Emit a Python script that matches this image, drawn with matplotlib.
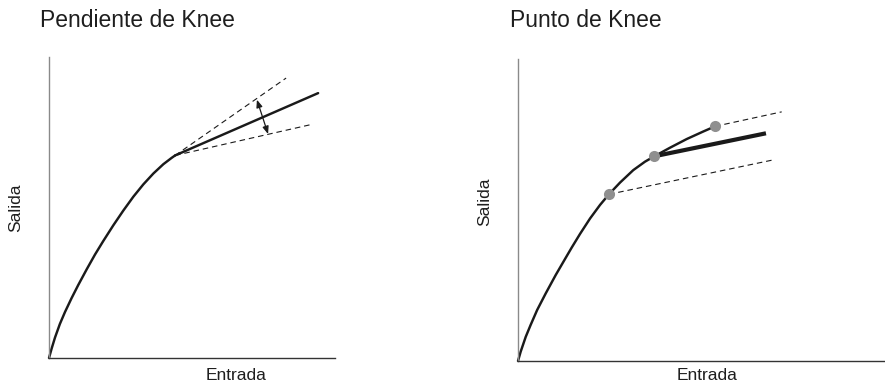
import matplotlib
matplotlib.use("Agg")
import matplotlib.pyplot as plt

plt.rcParams['font.family'] = ['Liberation Sans', 'DejaVu Sans']

# ---- Data (normalised input/output levels) ----
# Left panel: Pendiente de Knee
slope_curve_x = [0, 0.94, 2.1, 3.8, 5.6, 7.9, 10.2, 13.2, 16.1, 19.0, 22.5, 26.0,
                 29.5, 33.0, 36.5, 40.0, 42.9, 44.1]
slope_curve_y = [0, 3.2, 6.8, 11.3, 15.3, 19.9, 24.2, 29.5, 34.4, 38.9, 44.1, 49.0,
                 53.6, 57.7, 61.3, 64.4, 66.5, 67.3]
slope_knee = (44.1, 67.3)
slope_solid_end = (94.1, 88.0)
slope_upper_end = (82.9, 93.0)
slope_lower_end = (92.3, 77.7)
slope_arrow_a = (72.7, 85.8)
slope_arrow_b = (76.6, 74.4)

# Right panel: Punto de Knee
point_curve_x = [0, 0.94, 2.7, 4.4, 6.7, 9.7, 13.2, 16.7, 18.8, 21.7, 25.2, 28.7,
                 31.8, 35.7, 40.3, 44.4, 47.7, 53.1, 59.0, 64.8, 68.9]
point_curve_y = [0, 3.1, 8.0, 11.9, 16.9, 22.4, 28.5, 34.2, 37.6, 42.1, 47.2, 51.7,
                 55.2, 59.1, 63.2, 66.0, 67.8, 70.6, 73.5, 76.0, 77.7]
knee_points_x = [31.8, 47.7, 68.9]
knee_points_y = [55.2, 67.8, 77.7]
point_solid_end = (86.7, 75.4)
point_upper_end = (92.2, 82.5)
point_lower_end = (89.3, 66.6)

titles = ["Pendiente de Knee", "Punto de Knee"]
xlabel = "Entrada"
ylabel = "Salida"

W, H = 885, 384
fig = plt.figure(figsize=(W / 100, H / 100), dpi=100)

def px_axes(x0, ybot, w, h):
    return fig.add_axes([x0 / W, (H - ybot) / H, w / W, h / H])

ax1 = px_axes(49, 358, 286, 301)
ax2 = px_axes(518, 361, 367, 302)
ax1.set_xlim(0, 100)
ax1.set_ylim(0, 100)
ax2.set_xlim(0, 367 / 2.86)
ax2.set_ylim(0, 100.0)

for ax in (ax1, ax2):
    for s in ('top', 'right'):
        ax.spines[s].set_visible(False)
    ax.spines['left'].set_color('#8a8a8a')
    ax.spines['left'].set_linewidth(1.0)
    ax.spines['bottom'].set_color('#333333')
    ax.spines['bottom'].set_linewidth(1.0)
    ax.set_xticks([])
    ax.set_yticks([])
    ax.patch.set_alpha(0)

curve_kw = dict(color='#1a1a1a', lw=1.75, solid_capstyle='round', solid_joinstyle='round', clip_on=False)
dash_kw = dict(color='#1a1a1a', lw=0.8, dashes=(5, 3.5), clip_on=False)

# Left panel
ax1.plot(slope_curve_x, slope_curve_y, **curve_kw)
ax1.plot([slope_knee[0], slope_solid_end[0]], [slope_knee[1], slope_solid_end[1]], **curve_kw)
ax1.plot([slope_knee[0], slope_upper_end[0]], [slope_knee[1], slope_upper_end[1]], **dash_kw)
ax1.plot([slope_knee[0], slope_lower_end[0]], [slope_knee[1], slope_lower_end[1]], **dash_kw)
ax1.annotate("", xy=slope_arrow_a, xytext=slope_arrow_b,
             arrowprops=dict(arrowstyle='<|-|>,head_length=0.45,head_width=0.18',
                             color='#1a1a1a', lw=0.9, shrinkA=0, shrinkB=0))

# Right panel
ax2.plot([knee_points_x[0], point_lower_end[0]], [knee_points_y[0], point_lower_end[1]], **dash_kw)
ax2.plot([knee_points_x[2], point_upper_end[0]], [knee_points_y[2], point_upper_end[1]], **dash_kw)
ax2.plot(point_curve_x, point_curve_y, **curve_kw)
ax2.plot([knee_points_x[1], point_solid_end[0]], [knee_points_y[1], point_solid_end[1]],
         color='#1a1a1a', lw=3.0, solid_capstyle='butt', clip_on=False)
ax2.plot(knee_points_x, knee_points_y, 'o', color='#8f8f8f', ms=8, mew=0, clip_on=False, zorder=5)

# Text
tc = '#1e1e1e'
fig.text(40 / W, (H - 27) / H, titles[0], fontsize=16.5, color=tc, va='baseline', ha='left')
fig.text(510 / W, (H - 27) / H, titles[1], fontsize=16.5, color=tc, va='baseline', ha='left')
fig.text(236 / W, (H - 375) / H, xlabel, fontsize=12.5, color=tc, va='center', ha='center')
fig.text(707 / W, (H - 375) / H, xlabel, fontsize=12.5, color=tc, va='center', ha='center')
fig.text(16 / W, (H - 208) / H, ylabel, fontsize=12.5, color=tc, va='center', ha='center', rotation=90)
fig.text(485 / W, (H - 202) / H, ylabel, fontsize=12.5, color=tc, va='center', ha='center', rotation=90)

fig.savefig("out.png", dpi=100)
